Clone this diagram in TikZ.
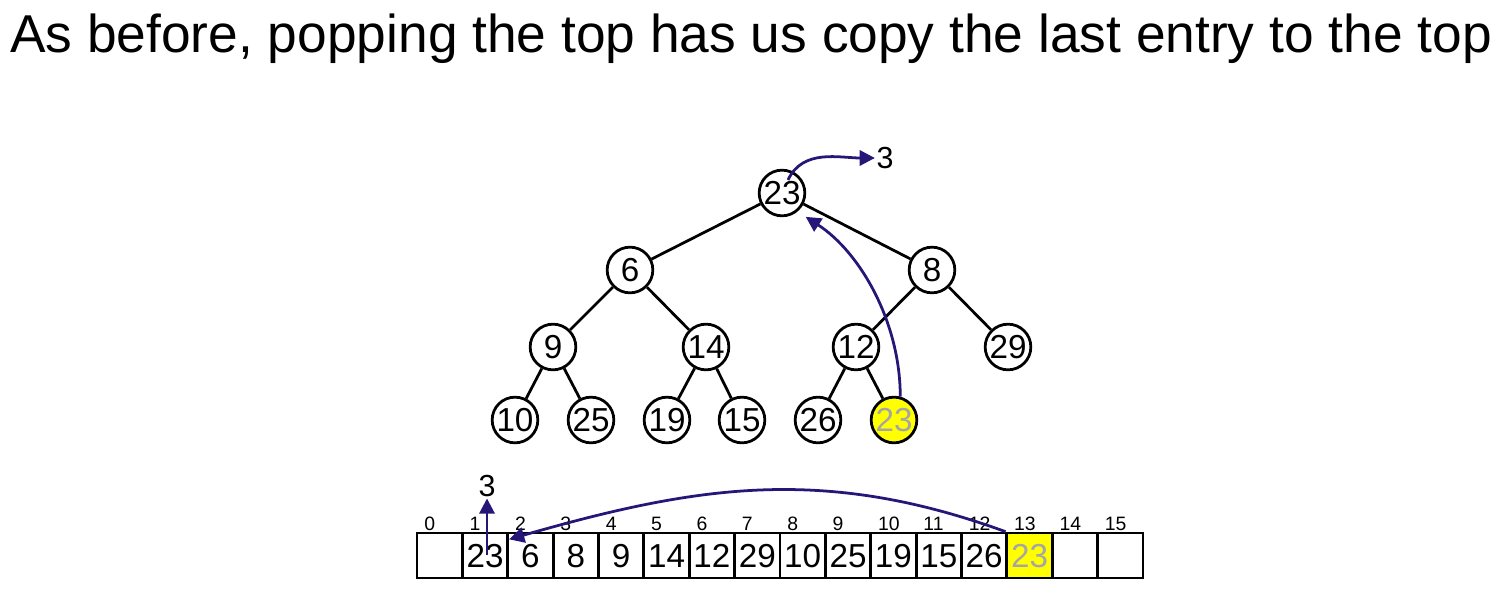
\documentclass[tikz,border=0pt]{standalone}
\usepackage{fontspec}
\setmainfont{Liberation Sans}
\usetikzlibrary{arrows.meta}

\definecolor{popblue}{RGB}{38,22,120}
\definecolor{lastyellow}{RGB}{255,255,0}
\definecolor{copygray}{RGB}{165,165,165}

\tikzset{
	heap/.style={circle, draw, line width=2pt, fill=white, minimum size=33pt, inner sep=0pt, font=\fontsize{24}{24}\selectfont},
	cell/.style={rectangle, draw, line width=2pt, minimum width=32.67pt, minimum height=32.4pt, inner sep=0pt, text height=17pt, text depth=0pt, font=\fontsize{24}{24}\selectfont},
	idx/.style={anchor=base west, inner sep=0pt, font=\fontsize{14}{14}\selectfont},
	treeline/.style={line width=2pt},
	pop/.style={line width=2pt, color=popblue, -{Triangle[length=11pt,width=11pt]}},
	popped/.style={inner sep=1pt, font=\fontsize{22}{22}\selectfont},
}

\begin{document}
\begin{tikzpicture}[x=0.01in, y=0.01in]
		%%%%% START %%%%%
		\useasboundingbox (0, 0) rectangle (1501, 597);
		
		\node[anchor=base west, inner sep=0pt, font=\fontsize{38.5}{38.5}\selectfont] (title) at (10, 544) {As before, popping the top has us copy the last entry to the top};
		
		%%%%% TREE %%%%%
		\node[heap] (root) at (782, 404) {23};
		\node[heap] (n6) at (630, 327) {6};
		\node[heap] (n8) at (932, 327) {8};
		\node[heap] (n9) at (553, 250) {9};
		\node[heap] (n14) at (706, 250) {14};
		\node[heap] (n12) at (856, 250) {12};
		\node[heap] (n29) at (1008, 250) {29};
		\node[heap] (n10) at (515, 177) {10};
		\node[heap] (n25) at (591, 177) {25};
		\node[heap] (n19) at (667, 177) {19};
		\node[heap] (n15) at (742, 177) {15};
		\node[heap] (n26) at (818, 177) {26};
		\node[heap, fill=lastyellow, text=copygray] (last) at (894, 177) {23};
		
		\draw[treeline] (root) -- (n6);
		\draw[treeline] (root) -- (n8);
		\draw[treeline] (n6) -- (n9);
		\draw[treeline] (n6) -- (n14);
		\draw[treeline] (n8) -- (n12);
		\draw[treeline] (n8) -- (n29);
		\draw[treeline] (n9) -- (n10);
		\draw[treeline] (n9) -- (n25);
		\draw[treeline] (n14) -- (n19);
		\draw[treeline] (n14) -- (n15);
		\draw[treeline] (n12) -- (n26);
		\draw[treeline] (n12) -- (last);
		
		\node[popped] (treetop) at (885, 439) {3};
		\coordinate (rootout) at (788, 417);
		\draw[pop] (rootout) to[out=65, in=180] (treetop.west);
		
		\draw[pop, shorten >=7pt] (last.75) to[out=90, in=-33, looseness=0.9] (root.-50);
		
		%%%%% ARRAY %%%%%
		\foreach \i/\val in {0/, 1/23, 2/6, 3/8, 4/9, 5/14, 6/12, 7/29, 8/10, 9/25, 10/19, 11/15, 12/26, 14/, 15/}
			\node[cell] (c\i) at ({417+45.375*(\i+0.5)}, 41.5) {\val};
		\node[cell, fill=lastyellow, text=copygray] (c13) at ({417+45.375*13.5}, 41.5) {23};
		
		\foreach \i in {0,...,15}
			\node[idx] (idx\i) at ({417+45.375*\i+7}, 67) {\i};
		
		\node[popped] (arraytop) at (487, 111) {3};
		\coordinate (cellout) at (487, 42);
		\draw[pop] (cellout) -- (arraytop.south);
		
		\draw[pop] (c13.north west) to[out=160, in=16] (c1.34);
		
		%%%%% END %%%%%
\end{tikzpicture}
\end{document}
